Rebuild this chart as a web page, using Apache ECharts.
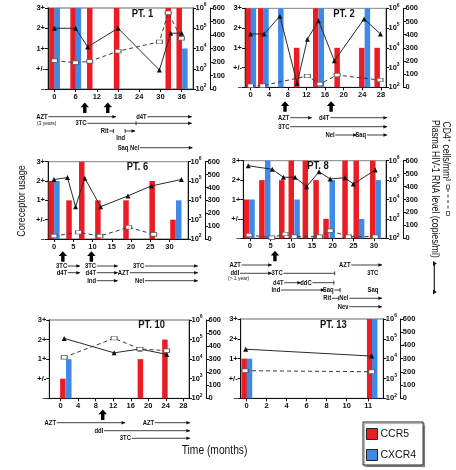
<!DOCTYPE html>
<html><head><meta charset="utf-8">
<script src="https://cdn.jsdelivr.net/npm/echarts@6/dist/echarts.min.js"></script>
<style>html,body{margin:0;padding:0;background:#fff}#c{width:456px;height:470px}</style>
</head><body><div id="c"></div>
<script>
// ================= DATA =================
const coreceptorLevels = ['–', '+/-', '1+', '2+', '3+'];
// coreceptor level index: 0 = '–', 1 = '+/-', 2 = '1+', 3 = '2+', 4 = '3+'

// ---- Patient 1 ----
const p1Ticks = [0, 6, 12, 18, 24, 30, 36];
const p1CCR5Time = [-0.7, 5.3, 10.0, 17.6, 32.2, 35.3];
const p1CCR5 = [4, 4, 4, 4, 4, 4];
const p1CXCR4Time = [0.8, 6.8, 36.9];
const p1CXCR4 = [4, 4, 2];
const p1RNATime = [0, 6, 9.4, 18, 29.7, 32.9, 36];
const p1RNA = [100000, 100000, 12000, 100000, 870, 57000, 57000];
const p1CD4Time = [0, 6, 10, 18, 29.7, 32.2, 35.9];
const p1CD4 = [210, 195, 205, 280, 350, 565, 375];
const p1Arrows = [8.6, 15.1];
// [row, line start, line end, label, end style]
const p1Drugs = [
  [1, -1.7, 17.4, 'AZT', 'arrow'],
  [2, -4.9, -4.9, '(3 years)', 'note'],
  [1, 26.3, 38.8, 'd4T', 'arrow'],
  [2, 9.3, 23.1, '3TC', 'bar'],
  [2, 23.1, 38.8, '', 'arrow'],
  [3, 15.5, 16.7, 'Rit', 'bar'],
  [3, 20.0, 22.8, '', 'barArrow'],
  [4, 20.2, 20.2, 'Ind', 'none'],
  [5, 24.2, 39.0, 'Saq Nel', 'arrow']
];

// ---- Patient 2 ----
const p2Ticks = [0, 4, 8, 12, 16, 20, 24, 28];
const p2CCR5Time = [-0.5, 2.2, 9.9, 14.0, 18.6, 23.9, 27.2];
const p2CCR5 = [4, 4, 2, 4, 2, 2, 2];
const p2CXCR4Time = [0.6, 3.3, 6.5, 15.2, 25.1];
const p2CXCR4 = [4, 4, 4, 4, 4];
const p2RNATime = [0, 2.9, 6.3, 10.0, 12.2, 14.6, 18.0, 24.4, 27.9];
const p2RNA = [50000, 50000, 400000, 160, 27000, 235000, 2200, 290000, 50000];
const p2CD4Time = [0, 2.6, 12.2, 14.9, 18.6, 27.8];
const p2CD4 = [12, 12, 86, 25, 93, 55];
const p2Arrows = [7.4, 17.3];
const p2Drugs = [
  [1, 8.5, 13.1, 'AZT', 'arrow'],
  [1, 17.1, 29.3, 'd4T', 'arrow'],
  [2, 8.5, 29.3, '3TC', 'arrow'],
  [3, 18.2, 22.8, 'Nel', 'arrow'],
  [3, 25.0, 29.3, 'Saq', 'arrow']
];

// ---- Patient 6 ----
const p6Ticks = [0, 5, 10, 15, 20, 25, 30, 35];
const p6CCR5Time = [-0.7, 3.9, 7.2, 11.4, 18.7, 25.5, 30.9];
const p6CCR5 = [3, 2, 4, 2, 2, 3, 1];
const p6CXCR4Time = [0.75, 32.4];
const p6CXCR4 = [3, 2];
const p6RNATime = [0, 3.5, 5.6, 8.0, 12.1, 19.2, 25.3, 33.1];
const p6RNA = [120000, 150000, 4700, 140000, 4700, 17000, 56000, 120000];
const p6CD4Time = [0, 6.4, 11.9, 19.4, 25.9];
const p6CD4 = [23, 52, 23, 91, 36];
const p6Arrows = [2.3, 9.7];
const p6Drugs = [
  [1, 3.6, 6.7, '3TC', 'arrow'],
  [1, 11.1, 16.5, '3TC', 'arrow'],
  [1, 23.6, 37.3, '3TC', 'arrow'],
  [2, 3.6, 6.7, 'd4T', 'arrow'],
  [2, 11.1, 16.5, 'd4T', 'arrow'],
  [2, 19.7, 37.3, 'AZT', 'arrow'],
  [3, 11.1, 16.5, 'Ind', 'arrow'],
  [3, 23.6, 37.3, 'Nel', 'arrow']
];

// ---- Patient 8 ----
const p8Ticks = [0, 5, 10, 15, 20, 25, 30];
const p8CCR5Time = [-0.8, 2.9, 7.7, 10.0, 13.4, 16.0, 18.4, 23.0, 25.7, 29.7];
const p8CCR5 = [2, 3, 3, 4, 4, 3, 1, 4, 4, 4];
const p8CXCR4Time = [0.5, 4.3, 11.4, 19.9, 27.0, 31.0];
const p8CXCR4 = [2, 4, 2, 3, 1, 3];
const p8RNATime = [-0.4, 5.4, 8.1, 10.9, 13.7, 16.7, 19.4, 23.0, 25.0, 30.3];
const p8RNA = [550000, 360000, 140000, 140000, 46000, 270000, 115000, 133000, 63000, 330000];
const p8CD4Time = [-0.2, 5.3, 8.5, 10.7, 16.8, 19.4, 23.8, 30.3];
const p8CD4 = [25, 5, 33, 13, 13, 59, 13, 13];
const p8Arrows = [6.05];
const p8Drugs = [
  [1, -2.0, 5.25, 'AZT', 'arrow'],
  [1, 24.5, 31.9, 'AZT', 'arrow'],
  [2, -2.4, 5.25, 'ddI', 'arrow'],
  [2, 8.1, 20.5, '3TC', 'bar'],
  [2, 31.2, 31.2, '3TC', 'none'],
  [3, -5.3, -5.3, '(> 1 year)', 'note'],
  [4, 8.3, 12.3, 'd4T', 'arrow'],
  [4, 15.1, 20.3, 'ddC', 'bar'],
  [5, 7.5, 18.0, 'Ind', 'arrow'],
  [5, 20.4, 21.8, 'Saq', 'bar'],
  [5, 31.2, 31.2, 'Saq', 'none'],
  [6, 19.8, 21.4, 'Rit', 'bar'],
  [6, 24.0, 31.9, 'Nel', 'arrow'],
  [7, 24.0, 31.9, 'Nev', 'arrow']
];

// ---- Patient 10 ----
const p10Ticks = [0, 4, 8, 12, 16, 20, 24, 28];
const p10CCR5Time = [0.5, 18.2, 23.8];
const p10CCR5 = [1, 2, 3];
const p10CXCR4Time = [1.85];
const p10CXCR4 = [2];
const p10RNATime = [0.8, 12.2, 18.1, 24.2];
const p10RNA = [115000, 21000, 33000, 17500];
const p10CD4Time = [0.8, 12.2, 18.1, 24.2];
const p10CD4 = [314, 460, 378, 365];
const p10Arrows = [9.6];
const p10Drugs = [
  [1, -0.9, 14.7, 'AZT', 'arrow'],
  [1, 21.5, 29.5, 'AZT', 'arrow'],
  [2, 9.9, 29.5, 'ddI', 'arrow'],
  [3, 16.2, 29.5, '3TC', 'arrow']
];

// ---- Patient 13 (axis stretched between 10 and 11 months) ----
const p13Ticks = [0, 2, 4, 6, 8, 10, 12.15];
const p13TickLabels = ['0', '2', '4', '6', '8', '10', '11'];
const p13CCR5Time = [-0.25, 12.3];
const p13CCR5 = [2, 4];
const p13CXCR4Time = [0.28, 12.8];
const p13CXCR4 = [2, 4];
const p13RNATime = [-0.1, 12.5];
const p13RNA = [30000, 13500];
const p13CD4Time = [-0.17, 12.5];
const p13CD4 = [209, 201];
const p13Arrows = [];
const p13Drugs = [];

// ================= LAYOUT / STYLE =================
const FF = "'Liberation Sans',Arial,Helvetica,sans-serif";
const NARROW = 0.82; // horizontal squeeze that imitates the narrow Helvetica of the original
const RED = '#ec1c24', BLUE = '#3e8ae6', INK = '#111';
const zip = (a, b) => a.map((v, i) => [v, b[i]]);

const panels = [
  {title: 'PT. 1', grid: {left: 48, top: 8, width: 145, height: 81}, xMin: -1.8, xMax: 39.2, tpos: [131.7, 14],
   rowY: [108, 116.7, 123.3, 131, 137.7, 147.7], ticks: p1Ticks,
   ccr5: zip(p1CCR5Time, p1CCR5), cxcr4: zip(p1CXCR4Time, p1CXCR4), rna: zip(p1RNATime, p1RNA), cd4: zip(p1CD4Time, p1CD4), arrows: p1Arrows, drugs: p1Drugs},
  {title: 'PT. 2', grid: {left: 245, top: 8.3, width: 141, height: 79}, xMin: -1.2, xMax: 29.1, tpos: [333.3, 14],
   rowY: [106.7, 117.7, 126.7, 135], ticks: p2Ticks,
   ccr5: zip(p2CCR5Time, p2CCR5), cxcr4: zip(p2CXCR4Time, p2CXCR4), rna: zip(p2RNATime, p2RNA), cd4: zip(p2CD4Time, p2CD4), arrows: p2Arrows, drugs: p2Drugs},
  {title: 'PT. 6', grid: {left: 48, top: 161.7, width: 140, height: 77.3}, xMin: -1.56, xMax: 34.8, tpos: [126.7, 167.3],
   rowY: [256.7, 266, 272.7, 280.7], ticks: p6Ticks,
   ccr5: zip(p6CCR5Time, p6CCR5), cxcr4: zip(p6CXCR4Time, p6CXCR4), rna: zip(p6RNATime, p6RNA), cd4: zip(p6CD4Time, p6CD4), arrows: p6Arrows, drugs: p6Drugs},
  {title: 'PT. 8', grid: {left: 243.3, top: 160.7, width: 142.7, height: 77.6}, xMin: -1.6, xMax: 32.9, tpos: [307.3, 166],
   rowY: [256.2, 265, 273.3, 278.3, 282.7, 290, 298.3, 306.7], ticks: p8Ticks,
   ccr5: zip(p8CCR5Time, p8CCR5), cxcr4: zip(p8CXCR4Time, p8CXCR4), rna: zip(p8RNATime, p8RNA), cd4: zip(p8CD4Time, p8CD4), arrows: p8Arrows, drugs: p8Drugs},
  {title: 'PT. 10', grid: {left: 49.3, top: 320, width: 139.7, height: 78.3}, xMin: -2.6, xMax: 29.3, tpos: [138.3, 325],
   rowY: [415, 422.7, 430.7, 438.3], ticks: p10Ticks,
   ccr5: zip(p10CCR5Time, p10CCR5), cxcr4: zip(p10CXCR4Time, p10CXCR4), rna: zip(p10RNATime, p10RNA), cd4: zip(p10CD4Time, p10CD4), arrows: p10Arrows, drugs: p10Drugs},
  {title: 'PT. 13', grid: {left: 240.7, top: 319, width: 142.6, height: 79.3}, xMin: -0.6, xMax: 13.66, tpos: [320, 325],
   rowY: [0], ticks: p13Ticks, tickLabels: p13TickLabels,
   ccr5: zip(p13CCR5Time, p13CCR5), cxcr4: zip(p13CXCR4Time, p13CXCR4), rna: zip(p13RNATime, p13RNA), cd4: zip(p13CD4Time, p13CD4), arrows: p13Arrows, drugs: p13Drugs}
];

const lab = {fontFamily: FF, fontSize: 7.5, fontWeight: 'bold', color: INK};
const axLine = {show: true, onZero: false, lineStyle: {color: INK, width: 1}};
const axTick = {show: true, length: 3, lineStyle: {color: INK, width: 1}};

const option = {
  animation: false, backgroundColor: '#fff',
  grid: [], xAxis: [], yAxis: [], series: [],
  legend: {
    left: 363, top: 422, orient: 'vertical', selectedMode: false,
    data: ['CCR5', 'CXCR4'], icon: 'rect', itemWidth: 11, itemHeight: 11, itemGap: 9,
    padding: [6, 7, 4, 3], borderColor: '#222', borderWidth: 1, backgroundColor: '#fff',
    shadowColor: 'rgba(0,0,0,0.35)', shadowOffsetX: 1.5, shadowOffsetY: 1.5, shadowBlur: 1,
    itemStyle: {borderColor: '#222', borderWidth: 1},
    textStyle: {fontFamily: FF, fontSize: 10.5, color: INK, padding: [0, 0, 0, -2]}
  },
  graphic: [
    {type: 'text', x: 22, y: 201, rotation: Math.PI / 2, scaleX: NARROW,
     style: {text: 'Coreceptor usage', align: 'center', verticalAlign: 'middle', fontFamily: FF, fontSize: 11, fill: INK}},
    {type: 'text', x: 445.5, y: 121.5, rotation: -Math.PI / 2, scaleX: NARROW,
     style: {text: 'CD4⁺ cells/mm³', align: 'left', verticalAlign: 'middle', fontFamily: FF, fontSize: 10.5, fill: INK}},
    {type: 'line', shape: {x1: 448, y1: 189, x2: 448, y2: 212}, style: {stroke: '#333', lineWidth: 1, lineDash: [3, 2.5]}},
    {type: 'rect', shape: {x: 446.5, y: 185, width: 3, height: 4}, style: {fill: '#fff', stroke: '#444', lineWidth: 0.8}},
    {type: 'rect', shape: {x: 446.5, y: 211.5, width: 3, height: 4}, style: {fill: '#fff', stroke: '#444', lineWidth: 0.8}},
    {type: 'text', x: 434.5, y: 120, rotation: -Math.PI / 2, scaleX: NARROW,
     style: {text: 'Plasma HIV-1 RNA level (copies/ml)', align: 'left', verticalAlign: 'middle', fontFamily: FF, fontSize: 10.5, fill: INK}},
    {type: 'line', shape: {x1: 434.3, y1: 263, x2: 434.3, y2: 292.5}, style: {stroke: '#222', lineWidth: 1.2}},
    {type: 'polygon', shape: {points: [[436.8, 263.5], [433, 261], [433, 266]]}, style: {fill: '#111'}},
    {type: 'polygon', shape: {points: [[436.8, 292], [433, 289.5], [433, 294.5]]}, style: {fill: '#111'}},
    {type: 'text', x: 181.7, y: 450.5, scaleX: NARROW,
     style: {text: 'Time (months)', align: 'left', verticalAlign: 'middle', fontFamily: FF, fontSize: 12.5, fill: INK}}
  ]
};

function drugRenderer(p) {
  return function (params, api) {
    const d = p.drugs[params.dataIndex];
    const y = p.rowY[d[0]];
    const x0 = api.coord([d[1], 0])[0];
    const x1 = api.coord([d[2], 0])[0];
    const kids = [];
    const type = d[4];
    if (type === 'note') {
      kids.push({type: 'text', x: x0, y: y, scaleX: NARROW, style: {x: 0, y: 0, text: d[3], align: 'left', verticalAlign: 'middle',
        fontFamily: FF, fontSize: 6, fill: INK}});
      return {type: 'group', children: kids};
    }
    if (d[3]) {
      kids.push({type: 'text', x: x0 - 0.7, y: y, scaleX: NARROW, style: {x: 0, y: 0, text: d[3], align: 'right', verticalAlign: 'middle',
        fontFamily: FF, fontSize: 7.2, fontWeight: 'bold', fill: INK}});
    }
    if (x1 > x0 + 0.5) {
      kids.push({type: 'line', shape: {x1: x0, y1: y, x2: x1, y2: y}, style: {stroke: INK, lineWidth: 0.8}});
      if (type === 'arrow' || type === 'barArrow') {
        kids.push({type: 'polygon', shape: {points: [[x1 + 0.5, y], [x1 - 3.5, y - 1.7], [x1 - 3.5, y + 1.7]]}, style: {fill: INK}});
      }
      if (type === 'bar') {
        kids.push({type: 'line', shape: {x1: x1, y1: y - 2, x2: x1, y2: y + 2}, style: {stroke: INK, lineWidth: 0.8}});
      }
      if (type === 'barArrow') {
        kids.push({type: 'line', shape: {x1: x0, y1: y - 2, x2: x0, y2: y + 2}, style: {stroke: INK, lineWidth: 0.8}});
      }
    }
    return {type: 'group', children: kids};
  };
}

function arrowRenderer(p) {
  return function (params, api) {
    const x = api.coord([api.value(0), 0])[0];
    const y = p.rowY[0];
    return {type: 'polygon', shape: {points: [
      [x, y - 5.5], [x + 4.2, y - 0.7], [x + 1.7, y - 0.7], [x + 1.7, y + 5],
      [x - 1.7, y + 5], [x - 1.7, y - 0.7], [x - 4.2, y - 0.7]]}, style: {fill: '#000'}};
  };
}

panels.forEach((p, i) => {
  option.grid.push(Object.assign({show: true, borderColor: '#9a9a9a', borderWidth: 1.3, backgroundColor: 'transparent'}, p.grid));
  option.graphic.push({type: 'text', x: p.tpos[0], y: p.tpos[1], scaleX: NARROW, z: 100,
    style: {text: p.title, align: 'left', verticalAlign: 'middle', fontFamily: FF, fontSize: 11.5, fontWeight: 'bold', fill: INK}});
  option.xAxis.push({
    gridIndex: i, type: 'value', min: p.xMin, max: p.xMax,
    axisLine: axLine,
    axisTick: Object.assign({customValues: p.ticks}, axTick),
    axisLabel: Object.assign({customValues: p.ticks, margin: 3.5,
      formatter: v => {
        if (!p.tickLabels) return String(v);
        const k = p.ticks.findIndex(t => Math.abs(t - v) < 1e-6);
        return k >= 0 ? p.tickLabels[k] : '';
      }}, lab),
    splitLine: {show: false}
  });
  option.yAxis.push({
    gridIndex: i, type: 'value', min: 0, max: 4, interval: 1, position: 'left',
    axisLine: axLine, axisTick: axTick,
    axisLabel: Object.assign({margin: 3, formatter: v => coreceptorLevels[Math.round(v)]}, lab),
    splitLine: {show: false}
  });
  option.yAxis.push({
    gridIndex: i, type: 'log', logBase: 10, min: 100, max: 1000000, position: 'right',
    axisLine: axLine, axisTick: axTick,
    axisLabel: {margin: 2.5,
      formatter: v => '{b|10}{s|' + Math.round(Math.log10(v)) + '}',
      rich: {b: Object.assign({}, lab), s: Object.assign({}, lab, {fontSize: 5, verticalAlign: 'top', lineHeight: 11})}},
    splitLine: {show: false}, minorTick: {show: false}
  });
  option.yAxis.push({
    gridIndex: i, type: 'value', min: 0, max: 600, interval: 100, position: 'right', offset: 17,
    axisLine: axLine, axisTick: axTick,
    axisLabel: Object.assign({margin: 2.5}, lab),
    splitLine: {show: false}
  });
  option.series.push({
    type: 'bar', name: 'CCR5', xAxisIndex: i, yAxisIndex: 3 * i, data: p.ccr5,
    barWidth: 5.5, barGap: '-100%', itemStyle: {color: RED}, z: 2
  });
  option.series.push({
    type: 'bar', name: 'CXCR4', xAxisIndex: i, yAxisIndex: 3 * i, data: p.cxcr4,
    barWidth: 5.5, barGap: '-100%', itemStyle: {color: BLUE}, z: 2
  });
  option.series.push({
    type: 'line', name: 'RNA', xAxisIndex: i, yAxisIndex: 3 * i + 1, data: p.rna,
    symbol: 'triangle', symbolSize: 5, lineStyle: {color: '#2a2a2a', width: 1},
    itemStyle: {color: '#111'}, z: 4
  });
  option.series.push({
    type: 'line', name: 'CD4', xAxisIndex: i, yAxisIndex: 3 * i + 2, data: p.cd4,
    symbol: 'rect', symbolSize: [6, 3.5], lineStyle: {color: '#3a3a3a', width: 1, type: [4, 3]},
    itemStyle: {color: '#fff', borderColor: '#555', borderWidth: 0.8}, z: 4
  });
  if (p.drugs.length) {
    option.series.push({type: 'custom', xAxisIndex: i, yAxisIndex: 3 * i, clip: false, silent: true, z: 5,
      data: p.drugs.map(d => [d[1], 0]), renderItem: drugRenderer(p)});
  }
  if (p.arrows.length) {
    option.series.push({type: 'custom', xAxisIndex: i, yAxisIndex: 3 * i, clip: false, silent: true, z: 5,
      data: p.arrows.map(a => [a, 0]), renderItem: arrowRenderer(p)});
  }
});

const chart = echarts.init(document.getElementById('c'), null, {renderer: 'canvas'});
chart.setOption(option);
</script>
</body></html>
